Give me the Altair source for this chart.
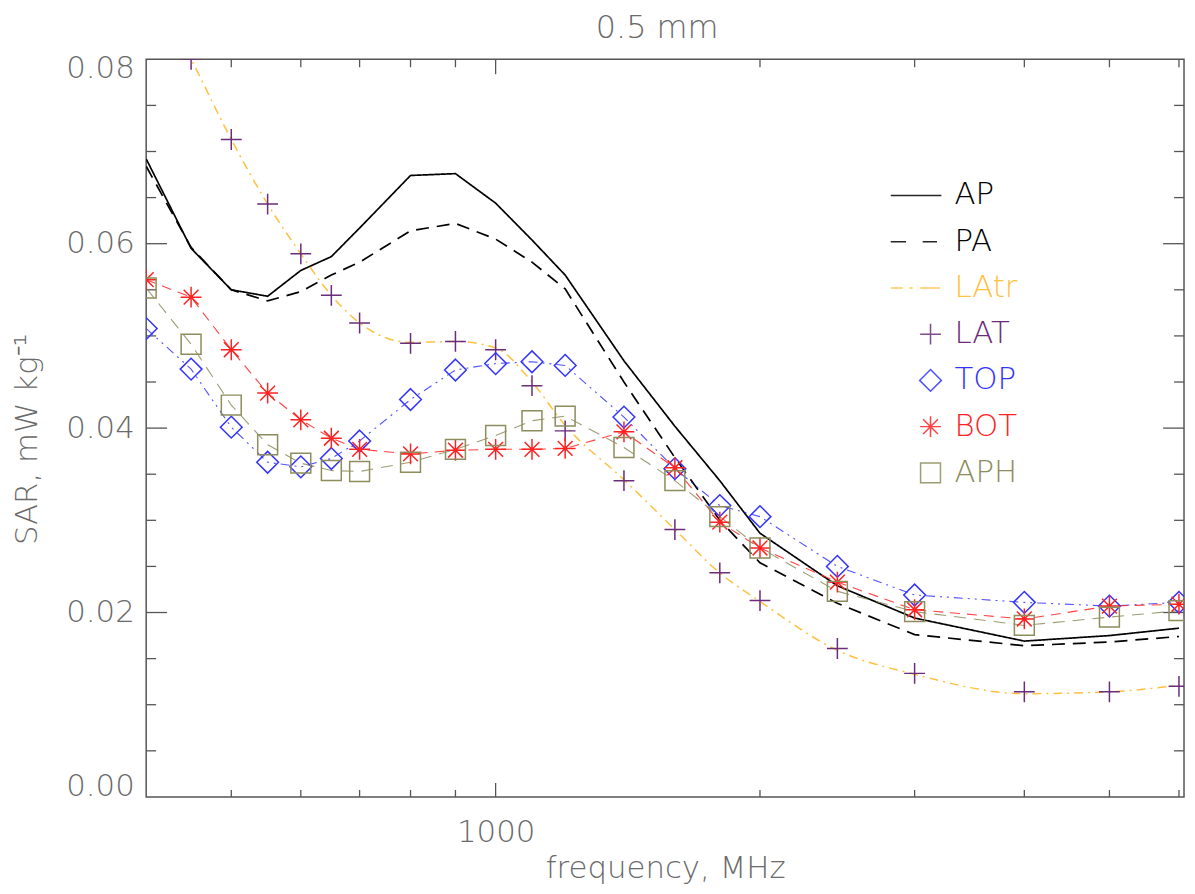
import altair as alt
import pandas as pd

# ---------------- data ----------------
freqs = [400, 450, 500, 550, 600, 650, 700, 800, 900, 1000, 1100, 1200,
         1400, 1600, 1800, 2000, 2450, 3000, 4000, 5000, 6000]

ap = [0.0692, 0.0595, 0.0550, 0.0543, 0.0571, 0.0586, 0.0617, 0.0674, 0.0676, 0.0644, 0.0604,
      0.0566, 0.0473, 0.0402, 0.0343, 0.0286, 0.0229, 0.0194, 0.0169, 0.0175, 0.0183]
pa = [0.0684, 0.0596, 0.0550, 0.0538, 0.0548, 0.0566, 0.0580, 0.0614, 0.0622, 0.0605, 0.0580,
      0.0551, 0.0450, 0.0368, 0.0300, 0.0254, 0.0210, 0.0176, 0.0164, 0.0168, 0.0174]
latr = [0.0890, 0.0800, 0.0713, 0.0643, 0.0589, 0.0544, 0.0514, 0.0493, 0.0494, 0.0487, 0.0450,
        0.0403, 0.0344, 0.0290, 0.0243, 0.0212, 0.0159, 0.0133, 0.0112, 0.0114, 0.0121]
lat = [0.0890, 0.0800, 0.0713, 0.0643, 0.0589, 0.0544, 0.0514, 0.0492, 0.0494, 0.0485, 0.0446,
       0.0397, 0.0343, 0.0290, 0.0243, 0.0213, 0.0161, 0.0134, 0.0114, 0.0114, 0.0120]
top = [0.0508, 0.0464, 0.0401, 0.0363, 0.0358, 0.0367, 0.0386, 0.0431, 0.0463, 0.0470, 0.0472,
       0.0468, 0.0412, 0.0356, 0.0316, 0.0304, 0.0250, 0.0219, 0.0211, 0.0207, 0.0211]
bot = [0.0561, 0.0542, 0.0485, 0.0438, 0.0409, 0.0389, 0.0377, 0.0372, 0.0376, 0.0377, 0.0377,
       0.0378, 0.0396, 0.0357, 0.0298, 0.0270, 0.0233, 0.0203, 0.0193, 0.0207, 0.0209]
aph = [0.0552, 0.0491, 0.0425, 0.0382, 0.0362, 0.0354, 0.0353, 0.0363, 0.0377, 0.0392, 0.0408,
       0.0413, 0.0379, 0.0343, 0.0304, 0.0270, 0.0223, 0.0201, 0.0186, 0.0195, 0.0202]

names = ["AP", "PA", "LAtr", "LAT", "TOP", "BOT", "APH"]
colors = ["#000000", "#000000", "#FFC040", "#6A2C7B", "#3333FF", "#FF2222", "#8C8C5C"]

line_names = ["AP", "PA", "LAtr", "TOP", "BOT", "APH"]
line_dashes = [[1, 0], [13, 8], [9, 5, 2, 5], [9, 5, 2, 5, 2, 5], [10, 7], [12, 8]]

x_minor = [500, 600, 700, 800, 900, 2000, 3000, 4000, 5000, 6000]
x_major = [1000]
y_minor = [0.005, 0.01, 0.015, 0.025, 0.03, 0.035, 0.045, 0.05, 0.055, 0.065, 0.07, 0.075]
y_major = [0.02, 0.04, 0.06]
y_labels = [0.0, 0.02, 0.04, 0.06, 0.08]

# ---------------- styling ----------------
W, H = 1044, 742
FONT = "DejaVu Sans"
FS = 31
GREY = "#6a6a6a"
FRAME = "#555555"

# legend / marker shapes (unit path coordinates)
shapes = [
    "M-1.72,0H0.47",
    "M-1.72,0H-1.06M-0.34,0H0.28",
    "M-1.72,0H-1.20M-0.92,0H-0.77M-0.44,0H0.40",
    "M-0.45,0H0.45M0,-0.45V0.45",
    "M0,-0.47L0.47,0L0,0.47L-0.47,0Z",
    "M-0.45,0H0.45M0,-0.45V0.45M-0.32,-0.32L0.32,0.32M-0.32,0.32L0.32,-0.32",
    "M-0.43,-0.43H0.43V0.43H-0.43Z",
]

series = {"AP": ap, "PA": pa, "LAtr": latr, "LAT": lat, "TOP": top, "BOT": bot, "APH": aph}


def long(keys):
    rows = []
    for k in keys:
        for f, v in zip(freqs, series[k]):
            rows.append({"freq": f, "sar": v, "name": k})
    return pd.DataFrame(rows)


color_expr = " : ".join(f"datum.label == '{n}' ? '{c}'" for n, c in zip(names, colors)) + " : '#000'"

legend = alt.Legend(
    orient="none", legendX=765, legendY=113, title=None,
    symbolSize=2162, symbolStrokeWidth=1.5, symbolFillColor="transparent",
    labelFont=FONT, labelFontSize=FS, labelFontWeight=200,
    labelColor=alt.ExprRef(expr=color_expr),
    labelOffset=0, rowPadding=7.5, padding=0, labelLimit=300,
)

color_enc = alt.Color("name:N", scale=alt.Scale(domain=names, range=colors), legend=legend)
shape_enc = alt.Shape("name:N", scale=alt.Scale(domain=names, range=shapes), legend=legend)
dash_enc = alt.StrokeDash("name:N", scale=alt.Scale(domain=line_names, range=line_dashes), legend=None)

xscale = alt.Scale(type="log", domain=[400, 6080], nice=False)
yscale = alt.Scale(domain=[0, 0.08], nice=False, zero=False)

x_enc = alt.X("freq:Q", scale=xscale,
              axis=alt.Axis(values=x_major, format="d", title="frequency, MHz",
                            labelPadding=21, titlePadding=6))
y_enc = alt.Y("sar:Q", scale=yscale,
              axis=alt.Axis(values=y_labels, format=".2f", labelFlush=True, labelFlushOffset=6,
                            title="SAR, mW kg⁻¹", labelPadding=12, titlePadding=22, titleY=382))

# ---------------- data layers ----------------
main_lines = alt.Chart(long(["AP", "PA"])).mark_line(strokeWidth=1.7, clip=True).encode(
    x=x_enc, y=y_enc, color=color_enc, strokeDash=dash_enc,
)

latr_line = alt.Chart(long(["LAtr"])).mark_line(strokeWidth=1.5, clip=True, interpolate="monotone").encode(
    x=x_enc, y=y_enc, color=color_enc, strokeDash=dash_enc,
)

thin_lines = alt.Chart(long(["TOP", "BOT", "APH"])).mark_line(strokeWidth=1.1, clip=True, opacity=0.85).encode(
    x=x_enc, y=y_enc, color=color_enc, strokeDash=dash_enc,
)

points = alt.Chart(long(["LAT", "TOP", "BOT", "APH"])).mark_point(
    filled=False, size=2162, strokeWidth=1.5, opacity=1, clip=True).encode(
    x=x_enc, y=y_enc, color=color_enc, shape=shape_enc,
)

# ---------------- inward ticks (IDL style box) ----------------
def xticks(vals, y0, y1):
    return alt.Chart(pd.DataFrame({"freq": vals})).mark_rule(color=FRAME, strokeWidth=1.3).encode(
        x=x_enc, y=alt.value(y0), y2=alt.value(y1))


def yticks(vals, x0, x1):
    return alt.Chart(pd.DataFrame({"sar": vals})).mark_rule(color=FRAME, strokeWidth=1.3).encode(
        y=y_enc, x=alt.value(x0), x2=alt.value(x1))


ticks = [
    xticks(x_minor, H, H - 7), xticks(x_major, H, H - 14),
    xticks(x_minor, 0, 8), xticks(x_major, 0, 15),
    yticks(y_minor, 0, 10), yticks(y_major, 0, 21),
    yticks(y_minor, W, W - 10), yticks(y_major, W, W - 21),
]

chart = alt.layer(*ticks, main_lines, latr_line, thin_lines, points).properties(
    width=W, height=H,
    title=alt.TitleParams("0.5 mm", font=FONT, fontSize=32, fontWeight=200, color=GREY,
                          offset=7, anchor="middle", dx=-8),
    padding={"left": 139, "top": 49, "right": 3, "bottom": 87},
    autosize=alt.AutoSizeParams(type="none"),
).configure(
    background="white",
).configure_view(
    stroke=FRAME, strokeWidth=1.5,
).configure_axis(
    grid=False, ticks=False, domain=False,
    labelFont=FONT, labelFontSize=FS, labelColor=GREY, labelFontWeight=200,
    titleFont=FONT, titleFontSize=FS, titleColor=GREY, titleFontWeight=200,
)

chart.save("out.html", embed_options={"renderer": "svg", "actions": False})
